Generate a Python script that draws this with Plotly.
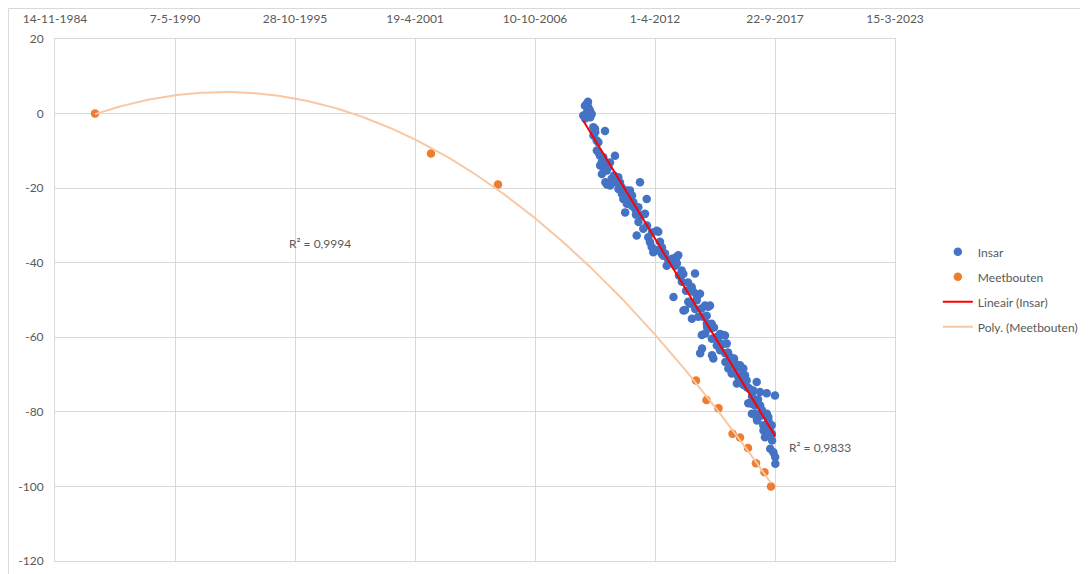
import numpy as np
import pandas as pd
import plotly.graph_objects as go

# ---- data (dates as Excel serial day numbers, values in mm) ----
meetbouten_serial = [31667, 37267, 38383, 41683, 41858, 42058, 42292, 42417, 42550, 42683, 42825, 42933]
meetbouten_value = [0.0, -10.7, -19.0, -71.6, -76.8, -79.0, -85.9, -86.9, -89.7, -93.8, -96.2, -100.0]

insar_serial = [
    39805, 39833, 39836, 39862, 39865, 39883, 39888, 39917, 39920, 39945,
    39972, 39975, 40000, 40003, 40028, 40031, 40055, 40058, 40083, 40086,
    40112, 40115, 40138, 40141, 40167, 40170, 40173, 40195, 40200, 40222,
    40250, 40253, 40278, 40317, 40333, 40336, 40388, 40391, 40417, 40445,
    40448, 40472, 40500, 40503, 40528, 40531, 40555, 40583, 40586, 40612,
    40617, 40638, 40667, 40683, 40695, 40722, 40725, 40750, 40778, 40805,
    40833, 40862, 40867, 40888, 40917, 40945, 40950, 40972, 41000, 41028,
    41031, 41055, 41083, 41112, 41117, 41138, 41167, 41195, 41222, 41250,
    41278, 41305, 41308, 41333, 41362, 41365, 41388, 41400, 41445, 41448,
    41472, 41475, 41500, 41517, 41550, 41555, 41583, 41612, 41615, 41638,
    41667, 41670, 41695, 41700, 41722, 41750, 41753, 41778, 41781, 41784,
    41805, 41833, 41836, 41862, 41865, 41868, 41888, 41917, 41920, 41945,
    41948, 41951, 41972, 41983, 42028, 42031, 42050, 42083, 42086, 42117,
    42138, 42167, 42170, 42173, 42195, 42217, 42222, 42250, 42278, 42305,
    42317, 42333, 42362, 42365, 42388, 42417, 42420, 42445, 42472, 42475,
    42500, 42528, 42531, 42555, 42567, 42612, 42615, 42617, 42638, 42667,
    42670, 42695, 42698, 42701, 42717, 42750, 42753, 42778, 42783, 42805,
    42808, 42833, 42862, 42865, 42868, 42888, 42891, 42917, 42920, 42945,
    42948, 42951, 42972, 43000, 43003, 43006,
]
insar_value = [
    -0.5, 2.1, -1.3, 2.6, 0.3, 3.2, 1.7, 0.8, -1.0, -0.1,
    -3.7, -5.9, -4.1, -5.0, -7.2, -9.9, -7.7, -10.4, -11.3, -13.9,
    -13.1, -16.2, -11.7, -14.4, -4.7, -13.1, -18.4, -15.3, -19.0, -14.4,
    -13.1, -19.3, -17.5, -16.6, -11.3, -18.4, -17.1, -20.2, -18.5, -19.8,
    -21.5, -22.9, -21.1, -26.5, -20.6, -24.2, -23.8, -20.6, -22.4, -24.7,
    -22.0, -23.8, -25.5, -27.1, -32.7, -25.1, -29.1, -18.4, -27.3, -30.9,
    -26.9, -22.9, -30.0, -33.2, -34.5, -35.8, -31.9, -37.2, -36.7, -31.4,
    -36.6, -31.7, -34.4, -37.6, -35.9, -38.1, -37.5, -40.8, -39.3, -39.9,
    -39.0, -38.9, -49.2, -40.8, -38.5, -40.2, -38.0, -43.4, -42.1, -45.1,
    -43.0, -52.8, -52.7, -47.5, -45.3, -50.5, -51.0, -46.5, -55.0, -47.8,
    -42.9, -52.4, -50.1, -49.1, -54.5, -48.3, -64.3, -52.3, -59.4, -63.0,
    -54.5, -51.5, -59.0, -54.2, -56.3, -57.2, -51.8, -51.5, -57.6, -56.4,
    -60.4, -64.8, -65.7, -57.4, -59.9, -62.2, -60.9, -59.1, -63.5, -61.9,
    -59.4, -59.5, -64.3, -66.6, -61.7, -64.1, -68.4, -65.3, -69.7, -67.1,
    -65.7, -67.0, -68.4, -72.4, -70.6, -67.5, -72.0, -70.2, -68.4, -72.8,
    -70.2, -71.6, -73.4, -77.7, -73.7, -77.8, -80.5, -75.9, -74.3, -78.3,
    -80.5, -72.0, -81.8, -82.3, -76.7, -74.7, -78.3, -81.0, -79.6, -83.6,
    -85.0, -86.8, -75.0, -80.5, -83.2, -81.4, -82.3, -85.0, -89.9, -83.6,
    -85.9, -87.7, -90.8, -75.6, -92.1, -93.9,
]

x_tick_serial = [31000, 33000, 35000, 37000, 39000, 41000, 43000, 45000]
x_tick_text = ["14-11-1984", "7-5-1990", "28-10-1995", "19-4-2001",
               "10-10-2006", "1-4-2012", "22-9-2017", "15-3-2023"]
y_tick_vals = [20, 0, -20, -40, -60, -80, -100, -120]
y_tick_text = ["20", "0", "-20", "-40", "-60", "-80", "-100", "-120"]
series_names = ["Insar", "Meetbouten", "Lineair (Insar)", "Poly. (Meetbouten)"]
r2_labels = ["R² = 0,9994", "R² = 0,9833"]


def to_date(serial):
    return pd.to_datetime(np.asarray(serial, dtype=float), unit="D", origin="1899-12-30")


# ---- trendlines (as Excel computes them, on serial x) ----
ms = np.array(meetbouten_serial, dtype=float)
mv = np.array(meetbouten_value, dtype=float)
poly = np.polyfit(ms - 40000, mv, 2)
poly_x = np.linspace(ms.min(), ms.max(), 300)
poly_y = np.polyval(poly, poly_x - 40000)

isr = np.array(insar_serial, dtype=float)
ivl = np.array(insar_value, dtype=float)
lin = np.polyfit(isr, ivl, 1)
lin_x = np.array([isr.min(), isr.max()])
lin_y = np.polyval(lin, lin_x)

BLUE = "#4472C4"
ORANGE = "#ED7D31"
GRAY = "#595959"
GRID = "#D9D9D9"
FONT = "Lato, 'Open Sans', sans-serif"

fig = go.Figure()
fig.add_trace(go.Scatter(
    x=to_date(isr), y=ivl, mode="markers", name=series_names[0],
    legendgroup="a", marker=dict(color=BLUE, size=8.5, line=dict(width=0)),
))
fig.add_trace(go.Scatter(
    x=to_date(ms), y=mv, mode="markers", name=series_names[1],
    legendgroup="b", marker=dict(color=ORANGE, size=8.5, line=dict(width=0)),
))
fig.add_trace(go.Scatter(
    x=to_date(lin_x), y=lin_y, mode="lines", name=series_names[2],
    legendgroup="c", line=dict(color="#FF0000", width=2),
))
fig.add_trace(go.Scatter(
    x=to_date(poly_x), y=poly_y, mode="lines", name=series_names[3],
    legendgroup="d", line=dict(color="#F8C7A4", width=2),
))

fig.add_annotation(x=to_date([35417])[0], y=-34.9, text=r2_labels[0], showarrow=False,
                   font=dict(family=FONT, size=12, color=GRAY), xanchor="center", yanchor="middle")
fig.add_annotation(x=to_date([43200])[0], y=-89.5, text=r2_labels[1], showarrow=False,
                   font=dict(family=FONT, size=12, color=GRAY), xanchor="left", yanchor="middle")

# outer chart border (page body has an 8px margin, figure sized to fit the window)
fig.add_shape(type="rect", xref="paper", yref="paper",
              x0=-0.0554, x1=1.3, y0=-0.1, y1=1.0584,
              line=dict(color="#D9D9D9", width=1), fillcolor="rgba(0,0,0,0)", layer="below")

fig.update_layout(
    width=1080, height=566,
    margin=dict(l=47, r=193, t=31, b=13, autoexpand=False),
    paper_bgcolor="white", plot_bgcolor="white",
    font=dict(family=FONT, size=12, color=GRAY),
    hovermode=False,
    legend=dict(x=1.051, y=0.62, xanchor="left", yanchor="top",
                font=dict(family=FONT, size=12, color=GRAY),
                tracegroupgap=6, bgcolor="rgba(0,0,0,0)", itemwidth=30),
    xaxis=dict(
        type="date", side="top", automargin=False,
        range=[to_date([31000])[0], to_date([45000])[0]],
        tickvals=to_date(x_tick_serial), ticktext=x_tick_text,
        showgrid=True, gridcolor=GRID, gridwidth=1,
        zeroline=False, showline=True, mirror=True, linecolor=GRID, linewidth=1,
        ticks="", ticklabelstandoff=10,
        tickfont=dict(family=FONT, size=12, color=GRAY),
    ),
    yaxis=dict(
        range=[-120, 20], automargin=False,
        tickvals=y_tick_vals, ticktext=y_tick_text,
        showgrid=True, gridcolor=GRID, gridwidth=1,
        zeroline=False, showline=True, mirror=True, linecolor=GRID, linewidth=1,
        ticks="", ticklabelstandoff=8,
        tickfont=dict(family=FONT, size=12, color=GRAY),
    ),
)

fig.write_html("out.html")
